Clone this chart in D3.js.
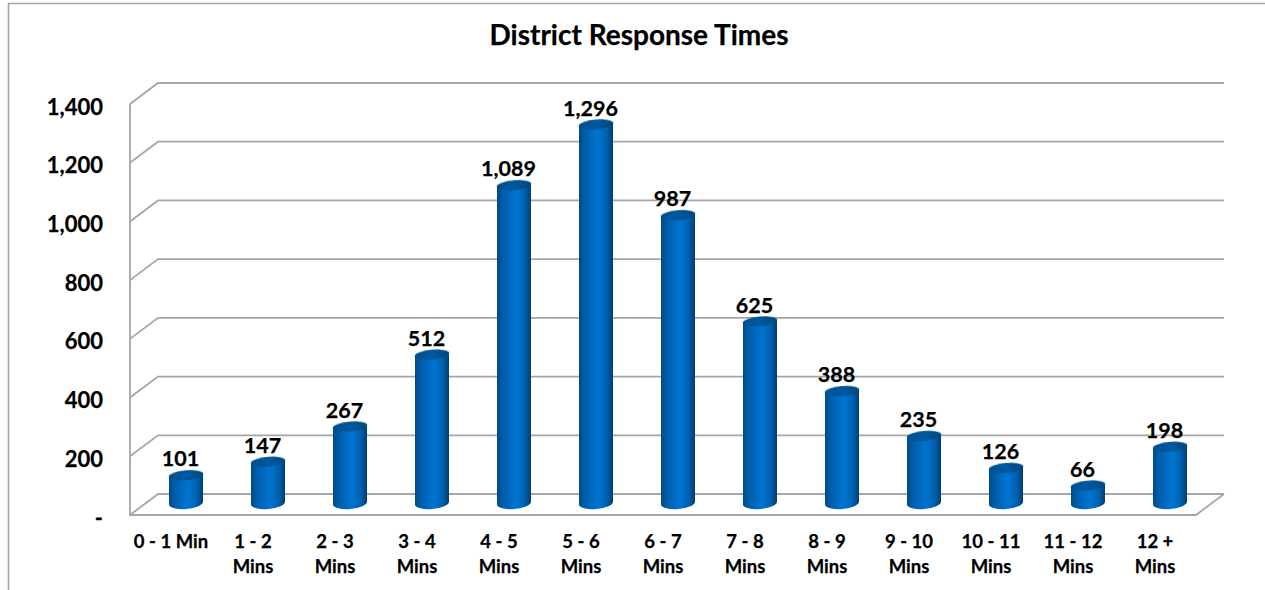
<!DOCTYPE html>
<html><head><meta charset="utf-8">
<script src="https://cdn.jsdelivr.net/npm/d3@7"></script>
<style>
html,body{margin:0;padding:0;background:#fff;overflow:hidden}
text{font-family:Lato,"Open Sans",sans-serif;font-weight:700;fill:#000;stroke:#000;stroke-width:.25px}
</style></head><body><svg id="c" width="1265" height="590"></svg>
<script>
const chartTitle = "District Response Times";
const categories = ["0 - 1 Min","1 - 2 Mins","2 - 3 Mins","3 - 4 Mins","4 - 5 Mins","5 - 6 Mins","6 - 7 Mins","7 - 8 Mins","8 - 9 Mins","9 - 10 Mins","10 - 11 Mins","11 - 12 Mins","12 + Mins"];
const values = [101,147,267,512,1089,1296,987,625,388,235,126,66,198];
const tickValues = [0,200,400,600,800,1000,1200,1400];

const W = 1265, H = 590;
const svg = d3.select("#c").attr("viewBox",[0,0,W,H]);
const depthX = 28, depthY = 21, grey = "#a6a6a6";
const frontLeft = 130, frontRight = 1196;
const y = d3.scaleLinear().domain([0,1400]).range([515,104]);
const x = d3.scaleBand().domain(categories).range([frontLeft+14, frontRight+14]).paddingInner(0).paddingOuter(0);
const fmt = v => v === 0 ? "-" : d3.format(",")(v);

const defs = svg.append("defs");
const body = defs.append("linearGradient").attr("id","body");
[[0,"#004a86"],[.2,"#0060ae"],[.55,"#0074d0"],[.8,"#0062b2"],[1,"#003f75"]].forEach(s=>body.append("stop").attr("offset",s[0]).attr("stop-color",s[1]));
const cap = defs.append("linearGradient").attr("id","cap");
[[0,"#004f8f"],[.5,"#00589f"],[1,"#00487f"]].forEach(s=>cap.append("stop").attr("offset",s[0]).attr("stop-color",s[1]));
defs.append("filter").attr("id","soft").append("feGaussianBlur").attr("stdDeviation",.4);

// outer frame
svg.append("path").attr("d",`M8.5,${H} V3.5 H${W}`).attr("fill","none").attr("stroke",grey).attr("stroke-width",1.6);

// title
svg.append("text").attr("x",639).attr("y",45).attr("text-anchor","middle").attr("font-size",28).text(chartTitle);

// walls and gridlines
const grid = svg.append("g").attr("fill","none").attr("stroke",grey).attr("stroke-width",1.8);
grid.selectAll("path.g").data(tickValues).join("path").attr("class","g")
  .attr("d",v=>`M${frontLeft},${y(v)} L${frontLeft+depthX},${y(v)-depthY} H${frontRight+depthX}`);
grid.append("path").attr("d",`M${frontLeft},${y(1400)} V${y(0)} H${frontRight} L${frontRight+depthX},${y(0)-depthY}`);

// y axis labels
const yAxis = svg.append("g").attr("transform","translate(103,3)")
  .call(d3.axisLeft(y).tickValues(tickValues).tickFormat(fmt).tickSize(0).tickPadding(0));
yAxis.select(".domain").remove();
yAxis.selectAll("text").attr("font-size",22).attr("font-family",null);

// cylinders
const bw = 34, ry = 6, tilt = -5, baseOff = 10, footOff = 12;
const g = svg.append("g");
const bars = g.selectAll("g").data(categories.map((c,i)=>({c,v:values[i]}))).join("g")
  .attr("transform",d=>`translate(${x(d.c)+x.bandwidth()/2+1},0)`);
const rise = bw/2*Math.tan(-tilt*Math.PI/180);
bars.append("path").attr("fill","url(#body)").attr("filter","url(#soft)").attr("d",d=>{
  const t=y(d.v)-baseOff, b=y(0)-footOff;
  return `M${-bw/2},${t+rise} L${bw/2},${t-rise} L${bw/2},${b-rise} A${bw/2},${ry} ${tilt} 0 1 ${-bw/2},${b+rise} Z`;
});
bars.append("ellipse").attr("fill","url(#cap)").attr("filter","url(#soft)").attr("rx",bw/2+.3).attr("ry",ry-1)
  .attr("transform",d=>`translate(0,${y(d.v)-baseOff}) rotate(${tilt})`);

// data labels
bars.append("text").attr("x",-5.5).attr("y",d=>y(d.v)-baseOff-9).attr("text-anchor","middle").attr("font-size",21.5)
  .text(d=>fmt(d.v));

// category labels
const cats = svg.selectAll("text.cat").data(categories).join("text").attr("class","cat")
  .attr("text-anchor","middle").attr("font-size",18.5)
  .attr("transform",d=>`translate(${x(d)+x.bandwidth()/2-14},548)`);
cats.each(function(d){
  const m = d.match(/^(.*) (Mins)$/);
  const lines = m ? [m[1],m[2]] : [d];
  d3.select(this).selectAll("tspan").data(lines).join("tspan").attr("x",0).attr("dy",(l,i)=>i?25:0).text(l=>l);
});
</script></body></html>
